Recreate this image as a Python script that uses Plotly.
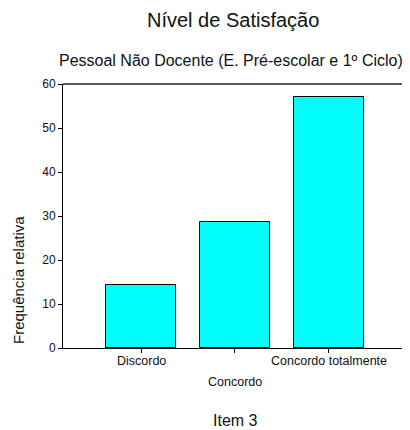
import plotly.graph_objects as go

categories = ["Discordo", "Concordo", "Concordo totalmente"]
values = [14.29, 28.57, 57.14]
y_ticks = [0, 10, 20, 30, 40, 50, 60]
label_rows = [0, 1, 0]

title = "Nível de Satisfação"
subtitle = "Pessoal Não Docente (E. Pré-escolar e 1º Ciclo)"
x_title = "Item 3"
y_title = "Frequência relativa"

FONT = "Liberation Sans, Arial, sans-serif"
PH = 264  # plot height in px

fig = go.Figure()
fig.add_trace(go.Bar(
    x=categories, y=values, width=0.745,
    marker=dict(color="#00FFFF", line=dict(color="#000000", width=1)),
    showlegend=False, hoverinfo="skip",
))

# page body has an 8px margin: figure is sized to fit the 410x430 window
fig.update_layout(
    width=402, height=422,
    margin=dict(l=55, r=4, t=76, b=82),
    paper_bgcolor="white", plot_bgcolor="white",
    font=dict(family=FONT, color="#111111", size=13),
    bargap=0,
)
fig.update_xaxes(
    type="category", range=[-0.83, 2.82],
    showticklabels=False, ticks="outside", ticklen=4, tickcolor="#000",
    showline=True, linecolor="#000", linewidth=1, showgrid=False, zeroline=False,
)
fig.update_yaxes(
    range=[0, 60], tickvals=y_ticks, ticks="outside", ticklen=4, tickcolor="#000",
    tickfont=dict(size=12, family=FONT, color="#111"),
    showline=True, linecolor="#000", linewidth=1, showgrid=False, zeroline=False,
)
# frame top/right
fig.add_shape(type="line", xref="paper", yref="paper", x0=0, x1=1, y0=1, y1=1,
              line=dict(color="#5a5a5a", width=2))
fig.add_shape(type="line", xref="paper", yref="paper", x0=1, x1=1, y0=0, y1=1,
              line=dict(color="#444444", width=1.5))

anns = []
for cat, row in zip(categories, label_rows):
    anns.append(dict(x=cat, xref="x", y=-(13 + 21 * row) / PH, yref="paper",
                     text=cat, showarrow=False, yanchor="middle",
                     font=dict(size=12.5, family=FONT, color="#111")))
anns.append(dict(x=0.497, xref="paper", y=(348 - 20) / PH, yref="paper", text=title,
                 showarrow=False, yanchor="middle", font=dict(size=20, family=FONT, color="#111")))
anns.append(dict(x=0.49, xref="paper", y=(348 - 61) / PH, yref="paper", text=subtitle,
                 showarrow=False, yanchor="middle", font=dict(size=16, family=FONT, color="#111")))
anns.append(dict(x=0.502, xref="paper", y=(348 - 421) / PH, yref="paper", text=x_title,
                 showarrow=False, yanchor="middle", font=dict(size=16, family=FONT, color="#111")))
anns.append(dict(x=(18 - 63) / 343, xref="paper", y=(348 - 280) / PH, yref="paper", text=y_title,
                 textangle=-90, showarrow=False, xanchor="center", yanchor="middle",
                 font=dict(size=15, family=FONT, color="#111")))
fig.update_layout(annotations=anns)

fig.write_html("out.html")
